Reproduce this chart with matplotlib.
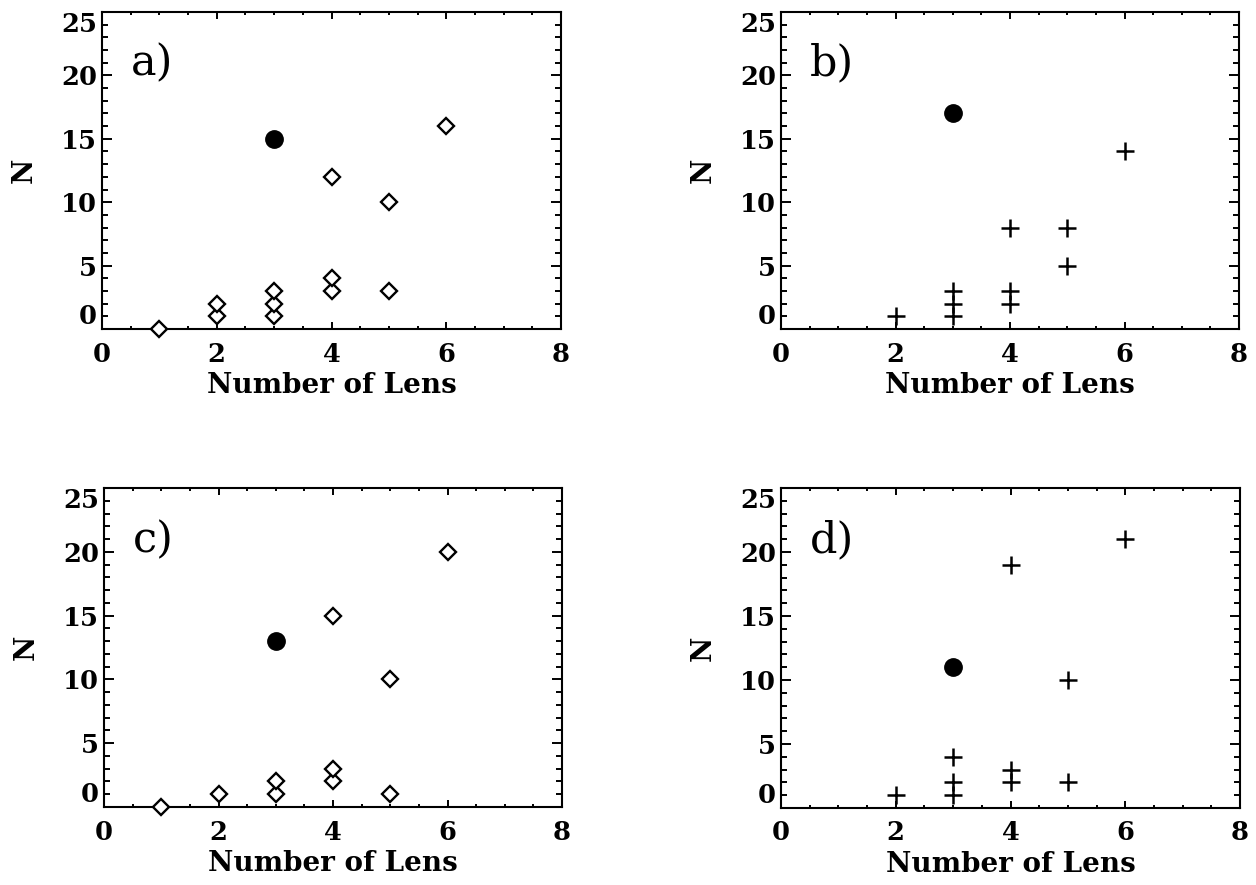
import matplotlib
matplotlib.use("Agg")
import matplotlib.pyplot as plt
from matplotlib.ticker import MultipleLocator, FixedLocator

# ---- data ----
panel_labels = ["a)", "b)", "c)", "d)"]
x_label = "Number of Lens"
y_label = "N"
x_ticks = [0, 2, 4, 6, 8]
y_ticks = [0, 5, 10, 15, 20, 25]

# filled circle (one per panel)
circle_x = [3, 3, 3, 3]
circle_y = [15, 17, 13, 11]

# panel a: diamonds
a_x = [1, 2, 2, 3, 3, 3, 4, 4, 4, 5, 5, 6]
a_y = [0, 1, 2, 1, 2, 3, 3, 4, 12, 3, 10, 16]
# panel b: plus
b_x = [2, 3, 3, 3, 4, 4, 4, 5, 5, 6]
b_y = [1, 1, 2, 3, 2, 3, 8, 5, 8, 14]
# panel c: diamonds
c_x = [1, 2, 3, 3, 4, 4, 4, 5, 5, 6]
c_y = [0, 1, 1, 2, 2, 3, 15, 1, 10, 20]
# panel d: plus
d_x = [2, 3, 3, 3, 4, 4, 4, 5, 5, 6]
d_y = [1, 1, 2, 4, 2, 3, 19, 2, 10, 21]

series = [(a_x, a_y, "D"), (b_x, b_y, "+"), (c_x, c_y, "D"), (d_x, d_y, "+")]

W, H = 1256, 885
fig = plt.figure(figsize=(W / 100, H / 100), dpi=100)

# axes boxes in pixels: left, top, right, bottom
boxes = [(102, 12, 561, 329), (781, 12, 1239, 329),
         (104, 488, 562, 807), (781, 488, 1240, 808)]

tick_font = dict(family="DejaVu Serif", weight="bold", size=18.5)

for i, (l, t, r, b) in enumerate(boxes):
    ax = fig.add_axes([l / W, 1 - b / H, (r - l) / W, (b - t) / H])
    sx, sy, mk = series[i]
    if mk == "D":
        ax.plot(sx, sy, linestyle="none", marker="D", markersize=8.5,
                markerfacecolor="white", markeredgecolor="black",
                markeredgewidth=1.7, clip_on=False, zorder=3)
    else:
        ax.plot(sx, sy, linestyle="none", marker="+", markersize=13.5,
                color="black", markeredgewidth=1.8, clip_on=False, zorder=3)
    ax.plot([circle_x[i]], [circle_y[i]], linestyle="none", marker="o",
            markersize=12.5, color="black", zorder=4)

    ax.set_xlim(0, 8)
    ax.set_ylim(0, 25)
    ax.xaxis.set_major_locator(FixedLocator(x_ticks))
    ax.xaxis.set_minor_locator(MultipleLocator(0.5))
    ax.yaxis.set_major_locator(FixedLocator(y_ticks))
    ax.yaxis.set_minor_locator(MultipleLocator(1))
    ax.set_xticklabels([str(v) for v in x_ticks], fontdict=tick_font)
    ax.set_yticklabels([str(v) for v in y_ticks], fontdict=tick_font)

    for s in ax.spines.values():
        s.set_linewidth(1.5)
    ax.tick_params(axis="both", which="both", direction="in",
                   top=True, right=True, width=1.4)
    ax.tick_params(axis="y", which="major", length=7.5, pad=3.5)
    ax.tick_params(axis="y", which="minor", length=4)
    ax.tick_params(axis="x", which="major", length=5, pad=9)
    ax.tick_params(axis="x", which="minor", length=2.5)

    yt = ax.yaxis.get_major_ticks()
    yt[0].label1.set_verticalalignment("bottom")
    yt[-1].label1.set_verticalalignment("top")

    ax.set_xlabel(x_label, fontfamily="DejaVu Serif", fontweight="bold",
                  fontsize=20, labelpad=4)
    ax.set_ylabel(y_label, fontfamily="DejaVu Serif", fontweight="bold",
                  fontsize=20, labelpad=17)

    ax.text(0.5, 20, panel_labels[i], fontfamily="DejaVu Serif",
            fontsize=31, ha="left", va="baseline")

fig.savefig("out.png", dpi=100, facecolor="white")
